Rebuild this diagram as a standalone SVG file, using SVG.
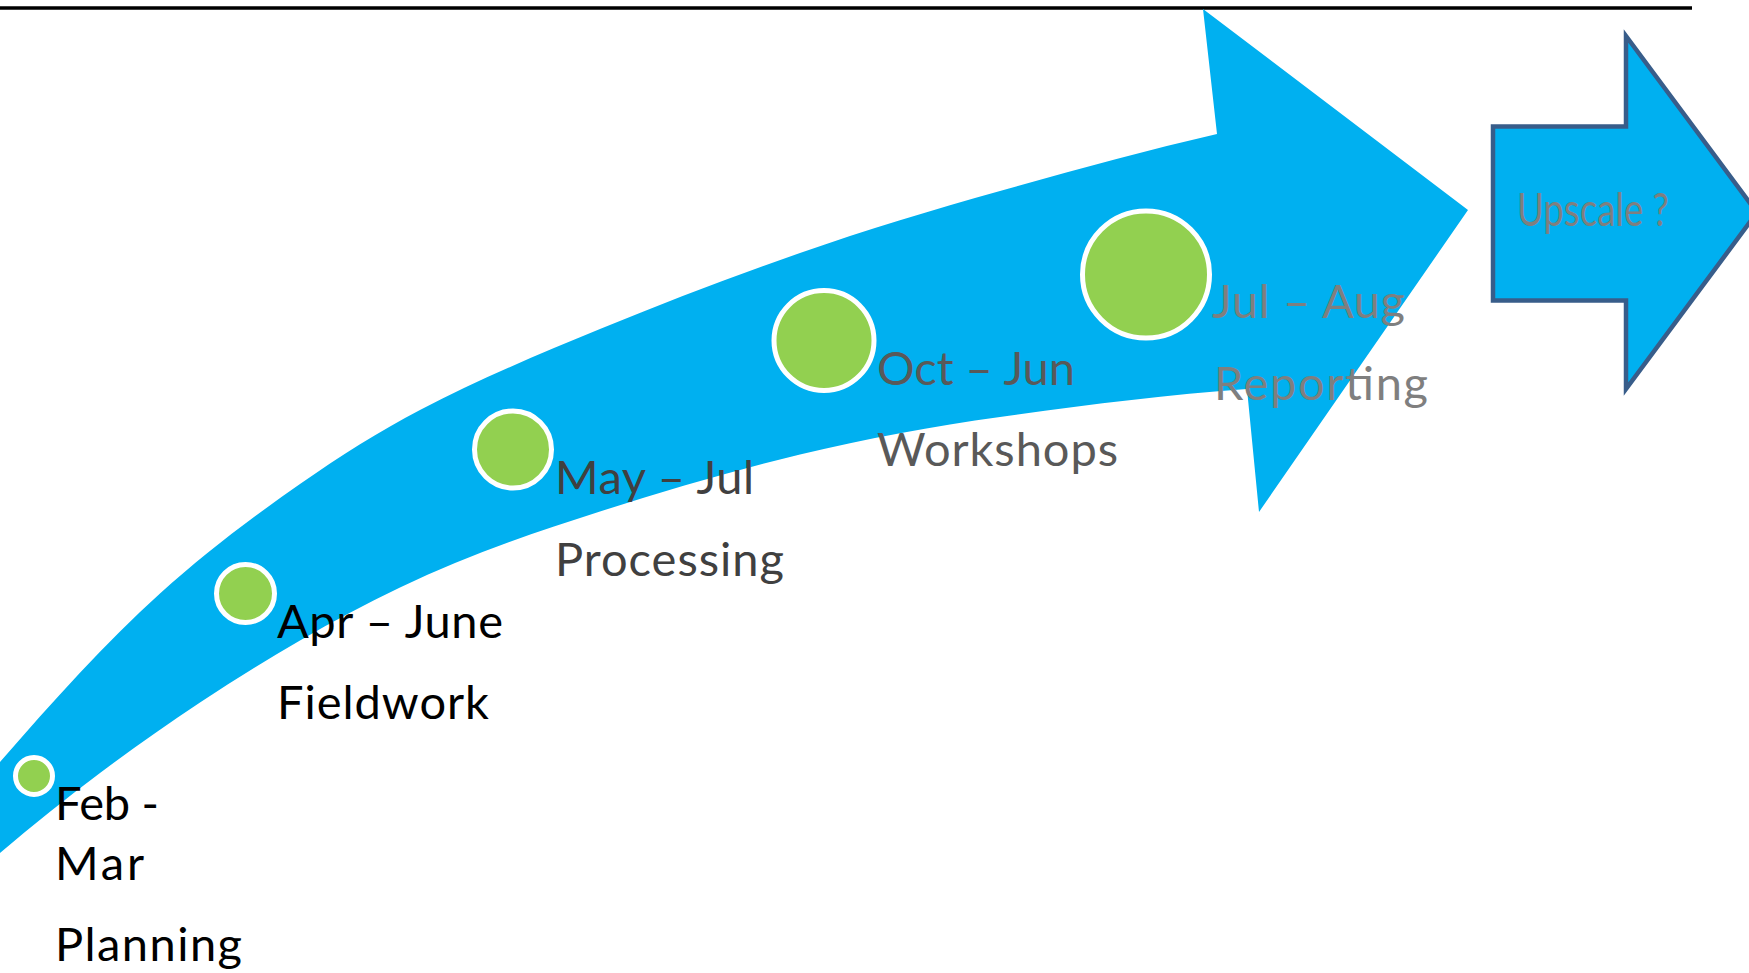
<svg xmlns="http://www.w3.org/2000/svg" width="1749" height="973" viewBox="0 0 1749 973">
  <style>
    .lbl { font-family: Lato, "Open Sans", "Liberation Sans", sans-serif; font-size: 47px; }
    .k { fill: #000000; }
    .d { fill: #404040; }
    .m { fill: #595959; }
    .g { fill: #7F7F7F; }
    .dot { fill: #92D050; stroke: #FFFFFF; stroke-width: 5; }
    .band { fill: #00B0F0; }
  </style>
  <rect x="0" y="0" width="1749" height="973" fill="#FFFFFF"/>
  <g id="top-rule">
    <line x1="0" y1="8" x2="1692" y2="8" stroke="#000000" stroke-width="3.5"/>
  </g>
  <g id="timeline-arrow">
    <path class="band" d="M -10,774 L 0,762 C 53.3,700.7 106.7,641.5 160,593.5 C 206.7,551.5 253.3,516.7 300,484 C 340,456 380,430.8 420,410 C 480,378.8 540,353.6 600,329 C 666.7,301.7 733.3,276.3 800,253 C 866.7,229.7 933.3,209.7 1000,191 C 1072.3,170.7 1144.7,150.6 1217,134 L 1203,9 L 1468,210 L 1259,512 L 1247,389 C 1164.7,394.8 1082.3,405.5 1000,417 C 933.3,426.3 866.7,438.5 800,454.5 C 733.3,470.5 666.7,490.2 600,511.5 C 533.3,532.8 466.7,555.5 400,587.5 C 366.7,603.5 333.3,621.2 300,640.5 C 266.7,659.8 233.3,680.5 200,702.5 C 166.7,724.5 133.3,748 100,773 C 66.7,798 33.3,824.7 0,853 L -10,861 Z"/>
  </g>
  <g id="upscale">
    <path d="M 1493,126.5 L 1626,126.5 L 1626,36 L 1757,212.5 L 1626,389 L 1626,300.5 L 1493,300.5 Z" fill="#00B0F0" stroke="#385D8A" stroke-width="4.5" stroke-linejoin="miter"/>
    <text class="lbl g" x="1517" y="226" font-size="34" textLength="152" lengthAdjust="spacingAndGlyphs">Upscale ?</text>
  </g>
  <g id="planning">
    <circle class="dot" cx="34" cy="776" r="18.5"/>
    <text class="lbl k" x="55" y="820" textLength="104">Feb -</text>
    <text class="lbl k" x="55" y="880" textLength="89">Mar</text>
    <text class="lbl k" x="55" y="961" textLength="187">Planning</text>
  </g>
  <g id="fieldwork">
    <circle class="dot" cx="245.5" cy="593.5" r="29"/>
    <text class="lbl k" x="277" y="638" textLength="226">Apr – June</text>
    <text class="lbl k" x="277" y="719" textLength="212">Fieldwork</text>
  </g>
  <g id="processing">
    <circle class="dot" cx="513" cy="449.5" r="38.5"/>
    <text class="lbl d" x="555" y="494" textLength="199">May – Jul</text>
    <text class="lbl d" x="555" y="576" textLength="229">Processing</text>
  </g>
  <g id="workshops">
    <circle class="dot" cx="824" cy="340.5" r="50"/>
    <text class="lbl m" x="877" y="385" textLength="198">Oct – Jun</text>
    <text class="lbl m" x="877" y="466" textLength="241">Workshops</text>
  </g>
  <g id="reporting">
    <circle class="dot" cx="1146" cy="274.5" r="63.5"/>
    <text class="lbl g" x="1212" y="318" textLength="193">Jul – Aug</text>
    <text class="lbl g" x="1214" y="400" textLength="214">Reporting</text>
  </g>
</svg>
